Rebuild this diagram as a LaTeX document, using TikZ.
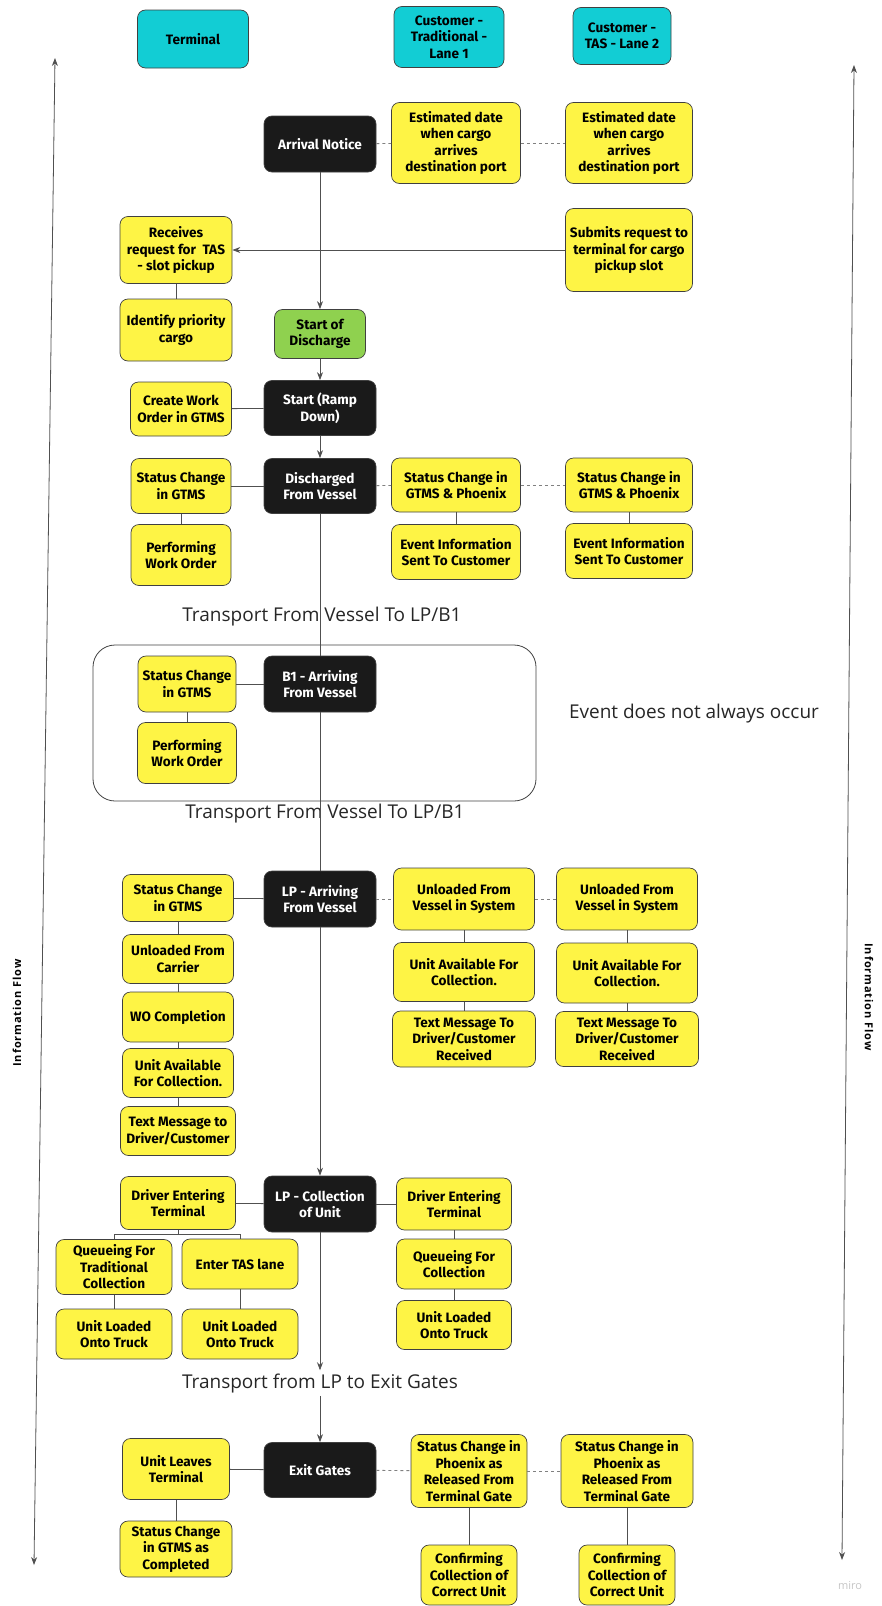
\documentclass[tikz,border=0pt]{standalone}
\usepackage{fontspec}
\setmainfont{Fira Sans}
\newfontfamily\plainfont{Open Sans}
\newfontfamily\flowfont{Open Sans}[LetterSpace=8]
\usetikzlibrary{positioning,arrows.meta}

\definecolor{laneblue}{HTML}{12CDD4}
\definecolor{noteyellow}{HTML}{FEF445}
\definecolor{startgreen}{HTML}{8FD14F}
\definecolor{eventblack}{HTML}{1A1A1A}
\definecolor{linegray}{HTML}{505050}

\tikzset{
	box/.style={draw=black!75, line width=0.7pt, rounded corners=8pt, align=center, inner sep=2pt,
		font=\bfseries\fontsize{13.6}{16.5}\selectfont},
	boxsize/.style 2 args={minimum width=#1pt, minimum height=#2pt},
	lanebox/.style={box, fill=laneblue},
	notebox/.style={box, fill=noteyellow},
	eventbox/.style={box, fill=eventblack, text=white},
	startbox/.style={box, fill=startgreen},
	link/.style={draw=linegray, line width=0.8pt},
	flow/.style={link, -{Stealth[length=8pt,width=6pt]}},
	bothflow/.style={link, {Stealth[length=8pt,width=6pt]}-{Stealth[length=8pt,width=6pt]}},
	dashlink/.style={draw=gray, line width=0.9pt, dash pattern=on 3pt off 3pt},
	caption/.style={font=\plainfont\fontsize{19}{22}\selectfont, text=black!85, inner sep=3pt},
}

\begin{document}
\begin{tikzpicture}[x=1pt, y=-1pt]
			\useasboundingbox (0,0) rectangle (881,1606);

			% lanes
			\node[lanebox, boxsize={111}{58}] (T) at (193, 39) {Terminal};
			\node[lanebox, boxsize={110}{61}] (C1) at (449, 37) {Customer -\\Traditional -\\Lane 1};
			\node[lanebox, boxsize={98}{57}] (C2) at (622, 36) {Customer -\\TAS - Lane 2};

			% information flow
			\coordinate (FL1) at (55, 58);
			\coordinate (FL2) at (34, 1565);
			\coordinate (FR1) at (854, 65);
			\coordinate (FR2) at (842, 1560);
			\draw[bothflow] (FL1) -- (FL2);
			\draw[bothflow] (FR1) -- (FR2);
			\node[rotate=90, font=\flowfont\bfseries\fontsize{11}{12}\selectfont] (IFL) at (17, 1013) {Information Flow};
			\node[rotate=-90, font=\flowfont\bfseries\fontsize{11}{12}\selectfont] (IFR) at (869, 997) {Information Flow};

			% arrival
			\node[eventbox, boxsize={112}{56}] (AN) at (320, 144) {Arrival Notice};
			\node[notebox, boxsize={129}{81}] (ED1) at (456, 143) {Estimated date\\when cargo\\arrives\\destination port};
			\node[notebox, boxsize={127}{81}] (ED2) at (629, 143) {Estimated date\\when cargo\\arrives\\destination port};
			\draw[dashlink] (AN) -- (ED1);
			\draw[dashlink] (ED1) -- (ED2);

			\node[notebox, boxsize={112}{67}] (RR) at (176, 250) {Receives\\request for~~TAS\\- slot pickup};
			\node[notebox, boxsize={127}{83}] (SR) at (629, 250) {Submits request to\\terminal for cargo\\pickup slot};
			\node[notebox, boxsize={112}{62}] (IP) at (176, 330) {Identify priority\\cargo};
			\node[startbox, boxsize={91}{49}] (SD) at (320, 334) {Start of\\Discharge};
			\draw[flow] (SR) -- (RR);
			\draw[link] (RR) -- (IP);
			\draw[flow] (AN) -- (SD);

			% discharge
			\node[notebox, boxsize={101}{54}] (CW) at (181, 409) {Create Work\\Order in GTMS};
			\node[eventbox, boxsize={112}{55}] (RD) at (320, 408) {Start (Ramp\\Down)};
			\draw[flow] (SD) -- (RD);
			\draw[link] (CW) -- (RD);

			\node[notebox, boxsize={100}{55}] (SG) at (181, 486) {Status Change\\in GTMS};
			\node[eventbox, boxsize={112}{55}] (DV) at (320, 486) {Discharged\\From Vessel};
			\node[notebox, boxsize={129}{54}] (GP1) at (456, 485) {Status Change in\\GTMS \& Phoenix};
			\node[notebox, boxsize={127}{54}] (GP2) at (629, 485) {Status Change in\\GTMS \& Phoenix};
			\node[notebox, boxsize={100}{61}] (PW) at (181, 555) {Performing\\Work Order};
			\node[notebox, boxsize={129}{55}] (EI1) at (456, 552) {Event Information\\Sent To Customer};
			\node[notebox, boxsize={127}{55}] (EI2) at (629, 551) {Event Information\\Sent To Customer};
			\draw[flow] (RD) -- (DV);
			\draw[link] (SG) -- (DV);
			\draw[link] (SG) -- (PW);
			\draw[dashlink] (DV) -- (GP1);
			\draw[dashlink] (GP1) -- (GP2);
			\draw[link] (GP1) -- (EI1);
			\draw[link] (GP2) -- (EI2);

			\node[caption] (TV1) at (322, 617) {Transport From Vessel To LP/B1};

			% optional B1 stop
			\node[draw=black!75, line width=0.8pt, rounded corners=22pt, boxsize={443}{156}] (OPT) at (314.5, 723) {};
			\node[notebox, boxsize={98}{56}] (BG) at (187, 684) {Status Change\\in GTMS};
			\node[eventbox, boxsize={112}{56}] (B1) at (320, 684) {B1 - Arriving\\From Vessel};
			\node[notebox, boxsize={99}{61}] (BP) at (187, 753) {Performing\\Work Order};
			\draw[link] (BG) -- (B1);
			\draw[link] (BG) -- (BP);
			\node[caption] (EV) at (694, 714) {Event does not always occur};

			\node[caption] (TV2) at (325, 814) {Transport From Vessel To LP/B1};

			% LP arrival
			\node[notebox, boxsize={111}{47}] (LG) at (178, 898) {Status Change\\in GTMS};
			\node[eventbox, boxsize={112}{56}] (LPA) at (320, 899) {LP - Arriving\\From Vessel};
			\node[notebox, boxsize={141}{62}] (UV1) at (464, 899) {Unloaded From\\Vessel in System};
			\node[notebox, boxsize={141}{62}] (UV2) at (627, 899) {Unloaded From\\Vessel in System};
			\node[notebox, boxsize={111}{49}] (UC) at (178, 959) {Unloaded From\\Carrier};
			\node[notebox, boxsize={111}{50}] (WO) at (178, 1017) {WO Completion};
			\node[notebox, boxsize={111}{49}] (UAL) at (178, 1073) {Unit Available\\For Collection.};
			\node[notebox, boxsize={115}{49}] (TML) at (178, 1131) {Text Message to\\Driver/Customer};
			\node[notebox, boxsize={141}{59}] (UA1) at (464, 972) {Unit Available For\\Collection.};
			\node[notebox, boxsize={141}{60}] (UA2) at (627, 973) {Unit Available For\\Collection.};
			\node[notebox, boxsize={143}{56}] (TM1) at (464, 1039) {Text Message To\\Driver/Customer\\Received};
			\node[notebox, boxsize={143}{55}] (TM2) at (627, 1039) {Text Message To\\Driver/Customer\\Received};
			\draw[link] (LG) -- (LPA);
			\draw[dashlink] (LPA) -- (UV1);
			\draw[dashlink] (UV1) -- (UV2);
			\draw[link] (LG) -- (UC);
			\draw[link] (UC) -- (WO);
			\draw[link] (WO) -- (UAL);
			\draw[link] (UAL) -- (TML);
			\draw[link] (UV1) -- (UA1);
			\draw[link] (UA1) -- (TM1);
			\draw[link] (UV2) -- (UA2);
			\draw[link] (UA2) -- (TM2);

			% LP collection
			\node[notebox, boxsize={115}{53}] (DEL) at (178, 1203) {Driver Entering\\Terminal};
			\node[eventbox, boxsize={112}{56}] (LPC) at (320, 1204) {LP - Collection\\of Unit};
			\node[notebox, boxsize={115}{52}] (DER) at (454, 1204) {Driver Entering\\Terminal};
			\node[notebox, boxsize={116}{55}] (QT) at (114, 1267) {Queueing For\\Traditional\\Collection};
			\node[notebox, boxsize={116}{50}] (TAS) at (240, 1264) {Enter TAS lane};
			\node[notebox, boxsize={116}{50}] (UT1) at (114, 1334) {Unit Loaded\\Onto Truck};
			\node[notebox, boxsize={116}{50}] (UT2) at (240, 1334) {Unit Loaded\\Onto Truck};
			\node[notebox, boxsize={115}{50}] (QC) at (454, 1264) {Queueing For\\Collection};
			\node[notebox, boxsize={115}{49}] (UTR) at (454, 1325) {Unit Loaded\\Onto Truck};
			\draw[link] (DV) -- (B1);
			\draw[link] (B1) -- (LPA);
			\draw[flow] (LPA) -- (LPC);
			\draw[link] (DEL) -- (LPC);
			\draw[link] (LPC) -- (DER);
			\draw[link] (DEL.south) -- ++(0, 5) -| (QT.north);
			\draw[link] (DEL.south) ++(0, 5) -| (TAS.north);
			\draw[link] (QT) -- (UT1);
			\draw[link] (TAS) -- (UT2);
			\draw[link] (DER) -- (QC);
			\draw[link] (QC) -- (UTR);

			\node[caption] (TG) at (320, 1383) {Transport from LP to Exit Gates};
			\draw[flow] (LPC) -- (TG);

			% exit gates
			\node[notebox, boxsize={107}{61}] (UL) at (176, 1469) {Unit Leaves\\Terminal};
			\node[eventbox, boxsize={112}{55}] (EG) at (320, 1470) {Exit Gates};
			\node[notebox, boxsize={116}{73}] (RP1) at (469, 1471) {Status Change in\\Phoenix as\\Released From\\Terminal Gate};
			\node[notebox, boxsize={132}{73}] (RP2) at (627, 1471) {Status Change in\\Phoenix as\\Released From\\Terminal Gate};
			\node[notebox, boxsize={112}{56}] (GC) at (176, 1549) {Status Change\\in GTMS as\\Completed};
			\node[notebox, boxsize={96}{60}] (CC1) at (469, 1575) {Confirming\\Collection of\\Correct Unit};
			\node[notebox, boxsize={96}{60}] (CC2) at (627, 1575) {Confirming\\Collection of\\Correct Unit};
			\draw[flow] (TG) -- (EG);
			\draw[link] (UL) -- (EG);
			\draw[dashlink] (EG) -- (RP1);
			\draw[dashlink] (RP1) -- (RP2);
			\draw[link] (UL) -- (GC);
			\draw[link] (RP1) -- (CC1);
			\draw[link] (RP2) -- (CC2);

			\node[font=\plainfont\fontsize{11}{13}\selectfont, text=gray!45] (MW) at (850, 1585) {miro};
		\end{tikzpicture}
\end{document}
